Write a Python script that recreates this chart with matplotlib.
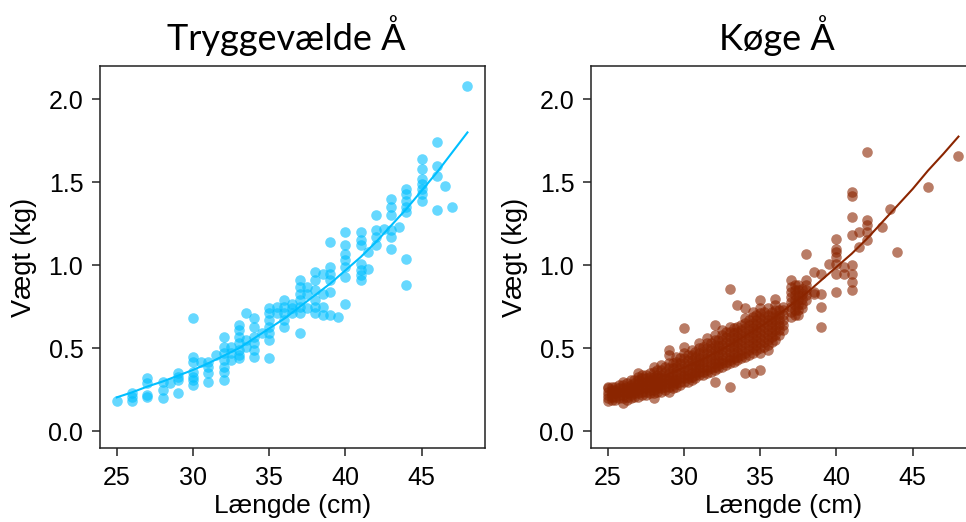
import numpy as np
import matplotlib.pyplot as plt

# Tryggevaelde Aa: length (cm) columns and the weights (kg) read in each column
left_lengths = [25, 26, 27, 28, 28.5, 29, 30, 30.5, 31, 31.5, 32, 32.5, 33, 33.5, 34, 34.5,
                35, 35.5, 36, 36.5, 37, 37.5, 38, 38.5, 39, 39.5, 40, 41, 41.5, 42, 42.5,
                43, 43.5, 44, 45, 46, 46.5, 47, 48]
left_weights = [
    [0.18],
    [0.23, 0.21, 0.18],
    [0.32, 0.29, 0.22, 0.21],
    [0.30, 0.25, 0.20],
    [0.29],
    [0.35, 0.33, 0.31, 0.23],
    [0.68, 0.45, 0.42, 0.36, 0.33, 0.31, 0.28],
    [0.42],
    [0.42, 0.39, 0.35, 0.30],
    [0.46],
    [0.57, 0.51, 0.47, 0.43, 0.39, 0.36, 0.31],
    [0.51, 0.47, 0.43],
    [0.64, 0.61, 0.57, 0.53, 0.49, 0.46, 0.44],
    [0.71, 0.55, 0.51],
    [0.68, 0.63, 0.57, 0.53, 0.49, 0.45],
    [0.59],
    [0.74, 0.71, 0.67, 0.63, 0.59, 0.55, 0.44],
    [0.75, 0.71],
    [0.79, 0.75, 0.71, 0.67, 0.63],
    [0.77, 0.74, 0.71],
    [0.91, 0.87, 0.83, 0.79, 0.75, 0.71, 0.59],
    [0.87, 0.83, 0.74],
    [0.96, 0.91, 0.85, 0.79, 0.75, 0.71],
    [0.95, 0.83, 0.75, 0.70],
    [1.14, 0.99, 0.95, 0.91, 0.84, 0.70],
    [0.69],
    [1.20, 1.12, 1.07, 1.03, 0.99, 0.93, 0.77],
    [1.20, 1.15, 1.12, 1.01, 0.97, 0.94, 0.91],
    [1.08, 0.98],
    [1.30, 1.21, 1.17, 1.12],
    [1.22],
    [1.40, 1.35, 1.30, 1.21, 1.17, 1.10],
    [1.23],
    [1.46, 1.43, 1.39, 1.35, 1.32, 1.04, 0.88],
    [1.64, 1.58, 1.52, 1.49, 1.46, 1.43, 1.39],
    [1.74, 1.60, 1.54, 1.33],
    [1.48],
    [1.35],
    [2.08],
]

# Koege Aa
right_lengths = [25, 25.5, 26, 26.5, 27, 27.5, 28, 28.5, 29, 29.5, 30, 30.5, 31, 31.5, 32,
                 32.5, 33, 33.5, 34, 34.5, 35, 35.5, 36, 36.5, 37, 37.5, 38, 38.5, 39, 39.5,
                 40, 40.5, 41, 41.5, 42, 43, 43.5, 44, 46, 48]
right_weights = [
    [0.18, 0.20, 0.22, 0.24, 0.26, 0.27],
    [0.19, 0.21, 0.23, 0.25, 0.27],
    [0.17, 0.20, 0.22, 0.24, 0.26, 0.28, 0.30],
    [0.20, 0.22, 0.24, 0.26, 0.28, 0.31],
    [0.21, 0.23, 0.25, 0.27, 0.29, 0.31, 0.33, 0.35],
    [0.22, 0.24, 0.26, 0.28, 0.30, 0.32, 0.34],
    [0.20, 0.23, 0.25, 0.27, 0.29, 0.31, 0.33, 0.36, 0.39],
    [0.24, 0.26, 0.28, 0.30, 0.32, 0.34, 0.37, 0.40],
    [0.24, 0.27, 0.29, 0.31, 0.33, 0.35, 0.38, 0.41, 0.46, 0.49],
    [0.27, 0.29, 0.31, 0.33, 0.36, 0.39, 0.42, 0.45],
    [0.30, 0.32, 0.34, 0.36, 0.38, 0.41, 0.44, 0.47, 0.51, 0.62],
    [0.31, 0.33, 0.35, 0.38, 0.40, 0.43, 0.46, 0.49],
    [0.34, 0.36, 0.38, 0.40, 0.42, 0.44, 0.47, 0.50, 0.53],
    [0.35, 0.37, 0.39, 0.42, 0.44, 0.47, 0.50, 0.53, 0.56],
    [0.30, 0.37, 0.39, 0.41, 0.43, 0.46, 0.49, 0.52, 0.55, 0.58, 0.64],
    [0.39, 0.41, 0.43, 0.46, 0.49, 0.52, 0.55, 0.58, 0.61],
    [0.27, 0.41, 0.43, 0.45, 0.48, 0.51, 0.54, 0.57, 0.60, 0.63, 0.86],
    [0.43, 0.45, 0.48, 0.51, 0.54, 0.57, 0.60, 0.63, 0.76],
    [0.35, 0.45, 0.47, 0.50, 0.53, 0.56, 0.59, 0.62, 0.65, 0.68, 0.74],
    [0.35, 0.47, 0.50, 0.53, 0.56, 0.59, 0.62, 0.65, 0.69, 0.72],
    [0.37, 0.47, 0.50, 0.53, 0.56, 0.59, 0.62, 0.65, 0.68, 0.71, 0.74, 0.79],
    [0.49, 0.52, 0.55, 0.58, 0.61, 0.64, 0.67, 0.70, 0.74],
    [0.55, 0.58, 0.61, 0.64, 0.67, 0.70, 0.73, 0.76, 0.80],
    [0.61, 0.64, 0.67, 0.70, 0.73, 0.75],
    [0.69, 0.72, 0.75, 0.78, 0.81, 0.84, 0.87, 0.91],
    [0.70, 0.73, 0.76, 0.79, 0.82, 0.85, 0.88],
    [0.79, 0.82, 0.85, 0.88, 0.91, 1.07],
    [0.83, 0.84, 0.96],
    [0.63, 0.75, 0.83, 0.95],
    [1.01],
    [0.84, 0.95, 1.01, 1.05, 1.08, 1.10, 1.16],
    [0.95, 0.99],
    [0.85, 0.90, 0.95, 1.00, 1.18, 1.29, 1.42, 1.44],
    [1.11, 1.20],
    [1.15, 1.20, 1.24, 1.27, 1.68],
    [1.23],
    [1.34],
    [1.08],
    [1.47],
    [1.66],
]

# Koege Aa, fish between the half-cm columns in the dense band
right_band_lengths = [25.25, 25.75, 26.25, 26.75, 27.25, 27.75, 28.25, 28.75, 29.25, 29.75,
                      30.25, 30.75, 31.25, 31.75, 32.25, 32.75, 33.25, 33.75, 34.25, 34.75,
                      35.25, 35.75, 36.25, 37.25, 37.75]
right_band_weights = [
    [0.19, 0.21, 0.23, 0.25, 0.27],
    [0.20, 0.22, 0.24, 0.26, 0.28],
    [0.19, 0.21, 0.23, 0.25, 0.27, 0.29],
    [0.21, 0.23, 0.25, 0.27, 0.29, 0.31],
    [0.22, 0.24, 0.26, 0.28, 0.30, 0.32, 0.34],
    [0.23, 0.25, 0.27, 0.29, 0.31, 0.33, 0.35],
    [0.24, 0.26, 0.28, 0.30, 0.32, 0.34, 0.37],
    [0.25, 0.27, 0.29, 0.31, 0.33, 0.36, 0.39],
    [0.26, 0.28, 0.30, 0.32, 0.35, 0.38, 0.41],
    [0.28, 0.30, 0.32, 0.35, 0.38, 0.41, 0.44],
    [0.30, 0.32, 0.34, 0.37, 0.40, 0.43, 0.46],
    [0.32, 0.34, 0.36, 0.39, 0.42, 0.45, 0.48],
    [0.34, 0.36, 0.39, 0.42, 0.45, 0.48, 0.51],
    [0.36, 0.38, 0.41, 0.44, 0.47, 0.50, 0.53],
    [0.38, 0.40, 0.43, 0.46, 0.49, 0.52, 0.55],
    [0.40, 0.42, 0.45, 0.48, 0.51, 0.54, 0.57, 0.60],
    [0.42, 0.44, 0.47, 0.50, 0.53, 0.56, 0.59, 0.62],
    [0.44, 0.46, 0.49, 0.52, 0.55, 0.58, 0.61, 0.64],
    [0.46, 0.49, 0.52, 0.55, 0.58, 0.61, 0.64, 0.67],
    [0.49, 0.52, 0.55, 0.58, 0.61, 0.64, 0.67, 0.70],
    [0.51, 0.54, 0.57, 0.60, 0.63, 0.66, 0.69, 0.72],
    [0.54, 0.57, 0.60, 0.63, 0.66, 0.69, 0.72],
    [0.58, 0.61, 0.64, 0.67, 0.70, 0.73],
    [0.70, 0.73, 0.76, 0.79, 0.82, 0.85, 0.88],
    [0.74, 0.77, 0.80, 0.83, 0.86],
]

# fitted curves
fit_len = [25, 26, 27, 28, 29, 30, 31, 32, 33, 34, 35, 36, 37, 38, 39, 40, 41, 42, 43, 44,
           45, 46, 47, 48]
left_fit = [0.205, 0.235, 0.27, 0.30, 0.335, 0.37, 0.41, 0.455, 0.50, 0.56, 0.62, 0.68,
            0.75, 0.82, 0.89, 0.97, 1.05, 1.14, 1.24, 1.34, 1.45, 1.56, 1.68, 1.80]
right_fit = [0.22, 0.245, 0.275, 0.31, 0.345, 0.385, 0.425, 0.47, 0.52, 0.575, 0.63, 0.69,
             0.76, 0.83, 0.91, 0.99, 1.07, 1.16, 1.26, 1.36, 1.46, 1.57, 1.67, 1.775]

titles = ["Tryggevælde Å", "Køge Å"]
colors = ["#00BFFF", "#8B2500"]


def flatten(lengths, weights):
    xs, ys = [], []
    for l, ws in zip(lengths, weights):
        xs += [l] * len(ws)
        ys += ws
    return np.array(xs), np.array(ys)


plt.rcParams['font.family'] = ['Liberation Sans', 'DejaVu Sans']

fig = plt.figure(figsize=(9.66, 5.22), dpi=100)
ax1 = fig.add_axes([100 / 966, 74 / 522, 385 / 966, 382 / 522])
ax2 = fig.add_axes([591 / 966, 74 / 522, 385 / 966, 382 / 522])

lx, ly = flatten(left_lengths, left_weights)
rx, ry = flatten(right_lengths + right_band_lengths, right_weights + right_band_weights)
data = [(lx, ly), (rx, ry)]
fits = [left_fit, right_fit]

for ax, (xs, ys), fit, col in zip([ax1, ax2], data, fits, colors):
    ax.plot(fit_len, fit, color=col, lw=1.5, zorder=1)
    ax.scatter(xs, ys, s=58, color=col, alpha=0.6, linewidths=0, zorder=2)
    ax.set_xlim(23.9, 49.15)
    ax.set_ylim(-0.1, 2.2)
    ax.set_xticks([25, 30, 35, 40, 45])
    ax.set_yticks([0.0, 0.5, 1.0, 1.5, 2.0])
    ax.set_yticklabels(["0.0", "0.5", "1.0", "1.5", "2.0"])
    ax.tick_params(direction='out', length=6, width=1.1, labelsize=18, color='#222222')
    ax.tick_params(axis='x', pad=7)
    ax.tick_params(axis='y', pad=6)
    for sp in ax.spines.values():
        sp.set_linewidth(1.1)
        sp.set_color('#222222')
    ax.set_xlabel("Længde (cm)", fontsize=19, labelpad=3)
    ax.set_ylabel("Vægt (kg)", fontsize=19.5, labelpad=8)

fig.text(286 / 966, 1 - 36 / 522, titles[0], ha='center', va='center', fontsize=26,
         family=['Lato', 'DejaVu Sans'])
fig.text(777 / 966, 1 - 36 / 522, titles[1], ha='center', va='center', fontsize=26,
         family=['Lato', 'DejaVu Sans'])

fig.savefig("out.png", dpi=100)
